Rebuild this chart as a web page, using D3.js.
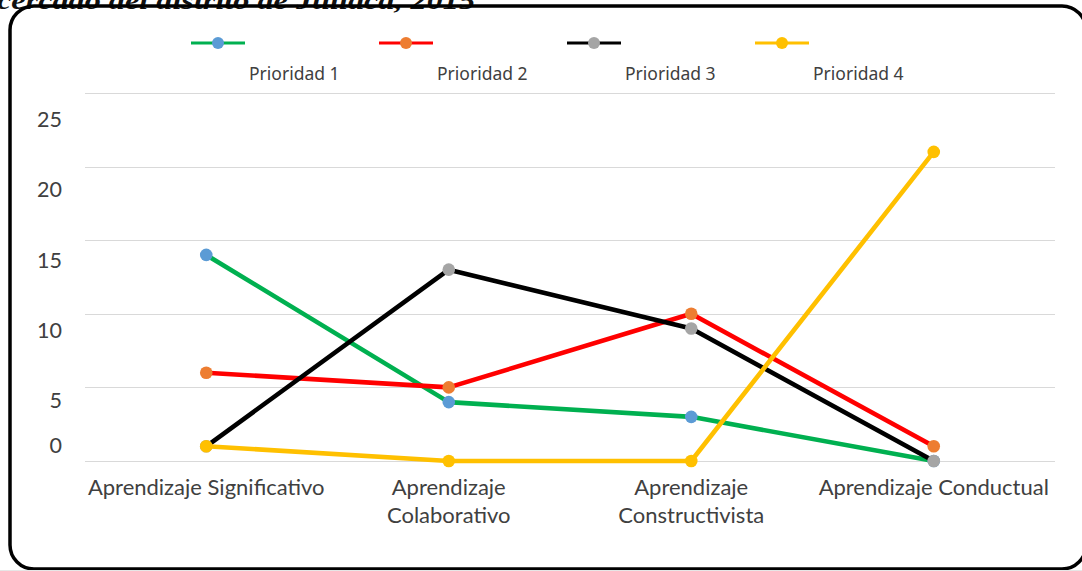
<!DOCTYPE html>
<html>
<head>
<meta charset="utf-8">
<script src="https://cdn.jsdelivr.net/npm/d3@7"></script>
<style>
  html, body { margin: 0; padding: 0; background: #fff; }
  svg { display: block; }
</style>
</head>
<body>
<svg id="chart" width="1082" height="571"></svg>
<script>
// ---- data ----
const categories = ["Aprendizaje Significativo", "Aprendizaje Colaborativo", "Aprendizaje Constructivista", "Aprendizaje Conductual"];
const categoryLines = [["Aprendizaje Significativo"], ["Aprendizaje", "Colaborativo"], ["Aprendizaje", "Constructivista"], ["Aprendizaje Conductual"]];
const seriesNames = ["Prioridad 1", "Prioridad 2", "Prioridad 3", "Prioridad 4"];
const prioridad1 = [14, 4, 3, 0];
const prioridad2 = [6, 5, 10, 1];
const prioridad3 = [1, 13, 9, 0];
const prioridad4 = [1, 0, 0, 21];
const yTicks = [0, 5, 10, 15, 20, 25];
const titleText = "cercado del distrito de Juliaca, 2015";

// ---- styles ----
const lineColors = ["#00B050", "#FF0000", "#000000", "#FFC000"];
const markerColors = ["#5B9BD5", "#ED7D31", "#A5A5A5", "#FFC000"];
const seriesValues = [prioridad1, prioridad2, prioridad3, prioridad4];

const svg = d3.select("#chart");

// title fragment (cut off at top, as in the reference)
svg.append("text")
  .attr("x", -3).attr("y", 9)
  .attr("font-family", "Liberation Serif")
  .attr("font-weight", "bold").attr("font-style", "italic")
  .attr("font-size", 26)
  .attr("textLength", 478).attr("lengthAdjust", "spacingAndGlyphs")
  .attr("fill", "#111")
  .text(titleText);

// frame
svg.append("rect")
  .attr("x", 10).attr("y", 6).attr("width", 1076).attr("height", 563)
  .attr("rx", 24).attr("ry", 24)
  .attr("fill", "none").attr("stroke", "#000").attr("stroke-width", 3.5);
svg.append("line").attr("x1", 0).attr("x2", 1082).attr("y1", 570.5).attr("y2", 570.5)
  .attr("stroke", "#e6e6e6").attr("stroke-width", 1);

// scales
const plotLeft = 85, plotRight = 1055, plotTop = 93, plotBottom = 461;
const x = d3.scaleBand().domain(categories).range([plotLeft, plotRight]);
const y = d3.scaleLinear().domain([0, 25]).range([plotBottom, plotTop]);
// tick labels in the reference sit off their gridlines
const yLabel = d3.scaleLinear().domain([0, 5, 25]).range([453, 408, 127]);

// gridlines
svg.append("g").selectAll("line").data(yTicks).join("line")
  .attr("x1", plotLeft).attr("x2", plotRight)
  .attr("y1", d => Math.round(y(d)) + 0.5).attr("y2", d => Math.round(y(d)) + 0.5)
  .attr("stroke", "#d9d9d9").attr("stroke-width", 1.2);

// y tick labels
svg.append("g").selectAll("text").data(yTicks).join("text")
  .attr("x", 62).attr("y", d => yLabel(d))
  .attr("text-anchor", "end")
  .attr("font-family", "Lato").attr("font-size", 21.5)
  .attr("fill", "#404040")
  .text(d => d);

// x category labels
const xl = svg.append("g").selectAll("text").data(categories).join("text")
  .attr("x", d => x(d) + x.bandwidth() / 2)
  .attr("y", 495)
  .attr("text-anchor", "middle")
  .attr("font-family", "Lato").attr("font-size", 22)
  .attr("fill", "#404040");
xl.each(function(d, i) {
  d3.select(this).selectAll("tspan").data(categoryLines[i]).join("tspan")
    .attr("x", x(d) + x.bandwidth() / 2)
    .attr("dy", (t, j) => j === 0 ? 0 : 28)
    .text(t => t);
});

// series
const line = d3.line()
  .x((v, i) => x(categories[i]) + x.bandwidth() / 2)
  .y(v => y(v));

seriesValues.forEach((vals, s) => {
  const g = svg.append("g");
  g.append("path").datum(vals)
    .attr("d", line)
    .attr("fill", "none")
    .attr("stroke", lineColors[s])
    .attr("stroke-width", 4.6)
    .attr("stroke-linejoin", "round");
  g.selectAll("circle").data(vals).join("circle")
    .attr("cx", (v, i) => x(categories[i]) + x.bandwidth() / 2)
    .attr("cy", v => y(v))
    .attr("r", 6.3)
    .attr("fill", markerColors[s]);
});

// legend
const legendX = d3.scalePoint().domain(seriesNames).range([218, 782]);
const lg = svg.append("g").selectAll("g").data(seriesNames).join("g")
  .attr("transform", d => `translate(${legendX(d)},43)`);
lg.append("line").attr("x1", -27).attr("x2", 27).attr("y1", 0).attr("y2", 0)
  .attr("stroke", (d, i) => lineColors[i]).attr("stroke-width", 3.2);
lg.append("circle").attr("r", 6).attr("fill", (d, i) => markerColors[i]);
lg.append("text").attr("x", 31).attr("y", 37)
  .attr("font-family", "Noto Sans").attr("font-size", 17.5)
  .attr("fill", "#404040")
  .text(d => d);
</script>
</body>
</html>
